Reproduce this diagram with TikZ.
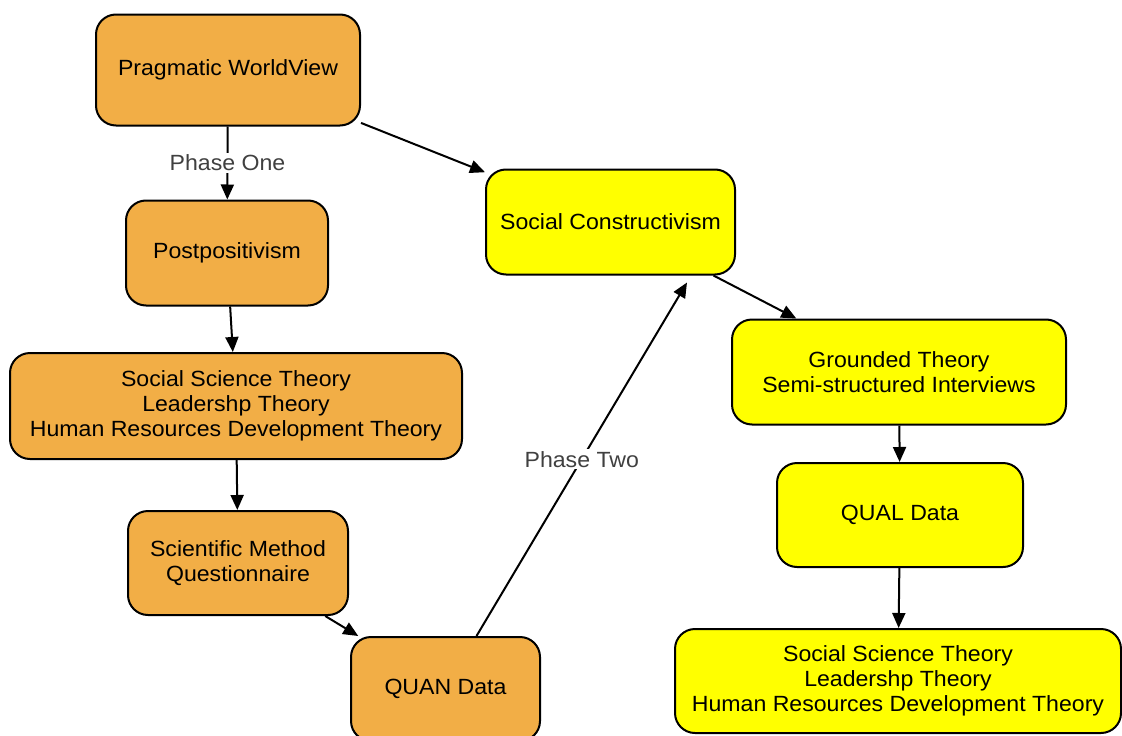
\documentclass[tikz,border=0pt]{standalone}
\usepackage{fontspec}
\setmainfont{Liberation Sans}[FakeStretch=1.05]
\usetikzlibrary{arrows.meta,calc}
\definecolor{boxorange}{HTML}{F2AE46}
\definecolor{boxyellow}{HTML}{FFFF00}
\definecolor{labelgray}{HTML}{404040}
\tikzset{
  box/.style={draw=black, line width=2pt, rounded corners=20pt, align=center,
    font=\fontsize{22}{25}\selectfont, inner sep=0pt},
  obox/.style={box, fill=boxorange},
  ybox/.style={box, fill=boxyellow},
  conn/.style={line width=2pt, -{Triangle[length=15pt,width=13pt]}},
  lbl/.style={fill=white, text=labelgray, font=\fontsize{22}{25}\selectfont, inner sep=2pt}
}
\begin{document}
\begin{tikzpicture}[x=1pt,y=-1pt]
\useasboundingbox (0,0) rectangle (1122,736);
\clip (0,0) rectangle (1122,736);
\node[obox, minimum width=264pt, minimum height=111pt] (prag) at (228,70) {Pragmatic WorldView};
\node[obox, minimum width=202pt, minimum height=105pt] (post) at (227,253) {Postpositivism};
\node[obox, minimum width=452pt, minimum height=106pt] (sstl) at (236,406) {Social Science Theory\\Leadershp Theory\\Human Resources Development Theory};
\node[obox, minimum width=220pt, minimum height=104pt] (sci) at (238,563) {Scientific Method\\Questionnaire};
\node[obox, minimum width=189pt, minimum height=104pt] (quan) at (445.5,689) {QUAN Data};
\node[ybox, minimum width=249pt, minimum height=105pt] (soc) at (610.5,222) {Social Constructivism};
\node[ybox, minimum width=334pt, minimum height=105pt] (grd) at (899,372) {Grounded Theory\\Semi-structured Interviews};
\node[ybox, minimum width=246pt, minimum height=104pt] (qual) at (900,515) {QUAL Data};
\node[ybox, minimum width=446pt, minimum height=104pt] (sstr) at (898,681) {Social Science Theory\\Leadershp Theory\\Human Resources Development Theory};

\draw[conn] (prag) -- node[lbl] {Phase One} (post);
\draw[conn] (prag) -- (soc);
\draw[conn] (post) -- (sstl);
\draw[conn] (sstl) -- (sci);
\draw[conn] (sci) -- (quan);
\coordinate (p2s) at ($(quan.north)+(31,0)$);
\coordinate (p2e) at ($(soc.south east)+(-49,7)$);
\draw[conn] (p2s) -- node[lbl] {Phase Two} (p2e);
\draw[conn] (soc) -- (grd);
\draw[conn] (grd) -- (qual);
\draw[conn] (qual) -- (sstr);
\end{tikzpicture}
\end{document}
